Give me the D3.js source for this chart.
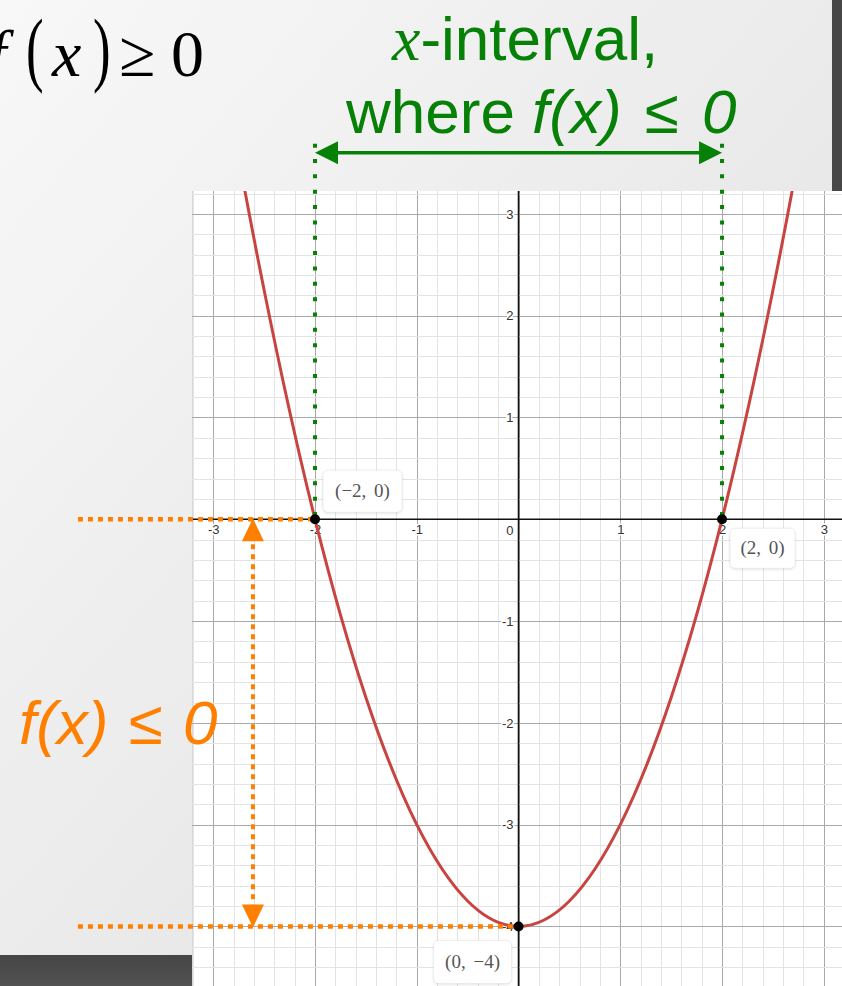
<!DOCTYPE html>
<html>
<head>
<meta charset="utf-8">
<script src="https://cdn.jsdelivr.net/npm/d3@7"></script>
<style>
  html, body { margin: 0; padding: 0; background: #eee; }
  svg { display: block; }
</style>
</head>
<body>
<svg id="chart" width="842" height="986"></svg>
<script>
// Visible window of the graph, in graph units
const viewX = [-3.209, 3.179];
const viewY = [-4.585, 3.225];

// Labelled tick values
const xTicks = [-3, -2, -1, 1, 2, 3];
const yTicks = [3, 2, 1, -1, -2, -3, -4];

// Sampled points of the parabola f(x) = x² − 4
const curveX = [-3.5, -3, -2.5, -2, -1.5, -1, -0.5, 0, 0.5, 1, 1.5, 2, 2.5, 3, 3.5];
const curveY = [8.25, 5, 2.25, 0, -1.75, -3, -3.75, -4, -3.75, -3, -1.75, 0, 2.25, 5, 8.25];

// Marked points: the two roots and the vertex
const keyPoints = [
  { x: -2, y: 0, label: "(\u22122, 0)" },
  { x: 2, y: 0, label: "(2, 0)" },
  { x: 0, y: -4, label: "(0, \u22124)" }
];

// Annotation anchors (graph units)
const intervalEnds = [-2, 2];     // green x-interval
const intervalArrowY = 3.6;
const intervalTopY = 3.69;
const rangeArrowX = -2.61;         // orange vertical arrow
const rangeEnds = [0, -4];
const rangeLeftX = -4.33;

const W = 842, H = 986;
const panel = { left: 192, top: 191, right: 842, bottom: 986 };

const svg = d3.select("#chart");
const defs = svg.append("defs");

// Slide background
const bg = defs.append("linearGradient").attr("id", "bg")
  .attr("x1", 0).attr("y1", 0).attr("x2", 1).attr("y2", 1);
bg.append("stop").attr("offset", "0%").attr("stop-color", "#f8f8f8");
bg.append("stop").attr("offset", "100%").attr("stop-color", "#dedede");
svg.append("rect").attr("width", W).attr("height", H).attr("fill", "url(#bg)");

const dark = defs.append("linearGradient").attr("id", "dark")
  .attr("x1", 0).attr("y1", 0).attr("x2", 0).attr("y2", 1);
dark.append("stop").attr("offset", "0%").attr("stop-color", "#454545");
dark.append("stop").attr("offset", "100%").attr("stop-color", "#525252");
svg.append("rect").attr("x", 832).attr("y", 0).attr("width", 10).attr("height", panel.top)
  .attr("fill", "#474747");
svg.append("rect").attr("x", 0).attr("y", 955).attr("width", panel.left).attr("height", H - 955)
  .attr("fill", "url(#dark)");

const shadow = defs.append("filter").attr("id", "shadow")
  .attr("x", "-20%").attr("y", "-20%").attr("width", "140%").attr("height", "150%");
shadow.append("feDropShadow").attr("dx", 0).attr("dy", 1).attr("stdDeviation", 1.5)
  .attr("flood-color", "#000").attr("flood-opacity", 0.12);

const x = d3.scaleLinear().domain(viewX).range([panel.left, panel.right]);
const y = d3.scaleLinear().domain(viewY).range([panel.bottom, panel.top]);

// Graph panel
defs.append("clipPath").attr("id", "clip").append("rect")
  .attr("x", panel.left).attr("y", panel.top)
  .attr("width", panel.right - panel.left).attr("height", panel.bottom - panel.top);
svg.append("rect")
  .attr("x", panel.left).attr("y", panel.top)
  .attr("width", panel.right - panel.left).attr("height", panel.bottom - panel.top)
  .attr("fill", "#fff");
svg.append("line").attr("x1", panel.left + 0.5).attr("x2", panel.left + 0.5)
  .attr("y1", panel.top).attr("y2", panel.bottom).attr("stroke", "#d8d8d8");

const plot = svg.append("g").attr("clip-path", "url(#clip)");

// Grid: minor lines every 0.2, major lines every 1
const minorX = d3.range(Math.ceil(viewX[0] * 5), Math.floor(viewX[1] * 5) + 1).map(k => k / 5);
const minorY = d3.range(Math.ceil(viewY[0] * 5), Math.floor(viewY[1] * 5) + 1).map(k => k / 5);
const isMajor = v => Math.abs(v - Math.round(v)) < 1e-9;

const grid = plot.append("g").attr("shape-rendering", "crispEdges");
grid.selectAll(".gx").data(minorX).join("line")
  .attr("x1", d => Math.round(x(d)) + 0.5).attr("x2", d => Math.round(x(d)) + 0.5)
  .attr("y1", panel.top).attr("y2", panel.bottom)
  .attr("stroke", d => isMajor(d) ? "#a9a9a9" : "#e3e3e3");
grid.selectAll(".gy").data(minorY).join("line")
  .attr("y1", d => Math.round(y(d)) + 0.5).attr("y2", d => Math.round(y(d)) + 0.5)
  .attr("x1", panel.left).attr("x2", panel.right)
  .attr("stroke", d => isMajor(d) ? "#a9a9a9" : "#e3e3e3");

// Axes
plot.append("line").attr("x1", panel.left).attr("x2", panel.right)
  .attr("y1", y(0)).attr("y2", y(0)).attr("stroke", "#111").attr("stroke-width", 1.6);
plot.append("line").attr("x1", x(0)).attr("x2", x(0))
  .attr("y1", panel.top).attr("y2", panel.bottom).attr("stroke", "#111").attr("stroke-width", 1.6);

const tickStyle = sel => {
  sel.select(".domain").remove();
  sel.selectAll(".tick line").remove();
  sel.selectAll("text")
    .attr("font-family", "Liberation Sans, Arial, sans-serif")
    .attr("font-size", 13)
    .attr("fill", "#333")
    .attr("stroke", "#fff").attr("stroke-width", 3)
    .attr("paint-order", "stroke");
};

plot.append("g").attr("transform", `translate(0,${y(0)})`)
  .call(d3.axisBottom(x).tickValues(xTicks).tickSize(0).tickPadding(6).tickFormat(d => String(d)))
  .call(tickStyle);
plot.append("g").attr("transform", `translate(${x(0)},0)`)
  .call(d3.axisLeft(y).tickValues(yTicks).tickSize(0).tickPadding(5).tickFormat(d => String(d)))
  .call(tickStyle);
// origin label
plot.append("text").attr("x", x(0) - 5).attr("y", y(0) + 16)
  .attr("text-anchor", "end")
  .attr("font-family", "Liberation Sans, Arial, sans-serif").attr("font-size", 13)
  .attr("fill", "#333").attr("stroke", "#fff").attr("stroke-width", 3).attr("paint-order", "stroke")
  .text("0");

// Parabola
const curvePts = curveX.map((v, i) => [v, curveY[i]]);
plot.append("path").datum(curvePts)
  .attr("fill", "none").attr("stroke", "#c74440").attr("stroke-width", 3)
  .attr("d", d3.line().x(d => x(d[0])).y(d => y(d[1])).curve(d3.curveNatural));

// Green x-interval annotation
const green = "#078007";
svg.selectAll(".gdot").data(intervalEnds).join("line")
  .attr("x1", d => x(d)).attr("x2", d => x(d))
  .attr("y1", y(intervalTopY)).attr("y2", y(0))
  .attr("stroke", green).attr("stroke-width", 4).attr("stroke-dasharray", "4 11.35");

const ax = y(intervalArrowY);
const aL = x(intervalEnds[0]), aR = x(intervalEnds[1]);
svg.append("line").attr("x1", aL + 20).attr("x2", aR - 20).attr("y1", ax).attr("y2", ax)
  .attr("stroke", green).attr("stroke-width", 3.5);
svg.append("path").attr("fill", green)
  .attr("d", `M${aL},${ax} L${aL + 23},${ax - 11.5} L${aL + 23},${ax + 11.5} Z`);
svg.append("path").attr("fill", green)
  .attr("d", `M${aR},${ax} L${aR - 23},${ax - 11.5} L${aR - 23},${ax + 11.5} Z`);

const gText = svg.append("g").attr("fill", green).attr("font-size", 62)
  .attr("font-family", "Liberation Sans, Arial, sans-serif");
const l1 = gText.append("text").attr("x", 392).attr("y", 60);
l1.append("tspan").attr("font-family", "Liberation Serif, Times New Roman, serif")
  .attr("font-style", "italic").attr("font-size", 64).text("x");
l1.append("tspan").text("-interval,");
const l2 = gText.append("text").attr("x", 346).attr("y", 133);
l2.append("tspan").text("where ");
l2.append("tspan").attr("font-style", "italic").attr("word-spacing", 6).text("f(x) \u2264 0");

// Orange range annotation
const orange = "#ff8000";
svg.append("line").attr("x1", x(rangeLeftX)).attr("x2", x(-2))
  .attr("y1", y(rangeEnds[0])).attr("y2", y(rangeEnds[0]))
  .attr("stroke", orange).attr("stroke-width", 4.5).attr("stroke-dasharray", "5 5");
svg.append("line").attr("x1", x(rangeLeftX)).attr("x2", x(0))
  .attr("y1", y(rangeEnds[1])).attr("y2", y(rangeEnds[1]))
  .attr("stroke", orange).attr("stroke-width", 4.5).attr("stroke-dasharray", "5 5");

const vx = x(rangeArrowX);
const vTop = y(rangeEnds[0]), vBot = y(rangeEnds[1]);
svg.append("line").attr("x1", vx).attr("x2", vx)
  .attr("y1", vTop + 25).attr("y2", vBot - 22)
  .attr("stroke", orange).attr("stroke-width", 4).attr("stroke-dasharray", "5 5");
svg.append("path").attr("fill", orange)
  .attr("d", `M${vx},${vTop - 1} L${vx - 11},${vTop + 22} L${vx + 11},${vTop + 22} Z`);
svg.append("path").attr("fill", orange)
  .attr("d", `M${vx},${vBot + 1} L${vx - 11},${vBot - 22} L${vx + 11},${vBot - 22} Z`);

svg.append("text").attr("x", 19).attr("y", 744)
  .attr("fill", orange).attr("font-size", 62).attr("font-style", "italic")
  .attr("word-spacing", 3)
  .attr("font-family", "Liberation Sans, Arial, sans-serif")
  .text("f(x) \u2264 0");

// Inequality heading
const head = svg.append("g").attr("fill", "#000")
  .attr("font-family", "Liberation Serif, Times New Roman, serif").attr("font-size", 66);
head.append("text").attr("x", -12).attr("y", 76).attr("font-style", "italic").text("f");
head.append("text").attr("transform", "translate(26,76) scale(0.8,1.25)").attr("font-weight", 300).text("(");
head.append("text").attr("x", 52).attr("y", 76).attr("font-style", "italic").text("x");
head.append("text").attr("transform", "translate(93,76) scale(0.8,1.25)").attr("font-weight", 300).text(")");
head.append("text").attr("x", 119).attr("y", 76).text("\u2265");
head.append("text").attr("x", 171).attr("y", 76).text("0");

// Marked points
svg.selectAll(".kp").data(keyPoints).join("circle")
  .attr("cx", d => x(d.x)).attr("cy", d => y(d.y)).attr("r", 5).attr("fill", "#000");

// Point labels
const boxOffset = [
  { dx: 8, dy: -49, w: 79, h: 42 },
  { dx: 8, dy: 9, w: 65, h: 40 },
  { dx: -85, dy: 14, w: 78, h: 43 }
];
const lab = svg.selectAll(".lab").data(keyPoints).join("g")
  .attr("transform", (d, i) => `translate(${x(d.x) + boxOffset[i].dx},${y(d.y) + boxOffset[i].dy})`);
lab.append("rect")
  .attr("width", (d, i) => boxOffset[i].w).attr("height", (d, i) => boxOffset[i].h)
  .attr("rx", 5).attr("fill", "#fff").attr("stroke", "rgba(0,0,0,0.06)")
  .attr("filter", "url(#shadow)");
lab.append("text")
  .attr("x", (d, i) => boxOffset[i].w / 2).attr("y", (d, i) => boxOffset[i].h / 2 + 6)
  .attr("text-anchor", "middle")
  .attr("font-family", "Liberation Serif, Times New Roman, serif").attr("font-size", 19)
  .attr("fill", "#555")
  .attr("word-spacing", 3)
  .text(d => d.label);
</script>
</body>
</html>
